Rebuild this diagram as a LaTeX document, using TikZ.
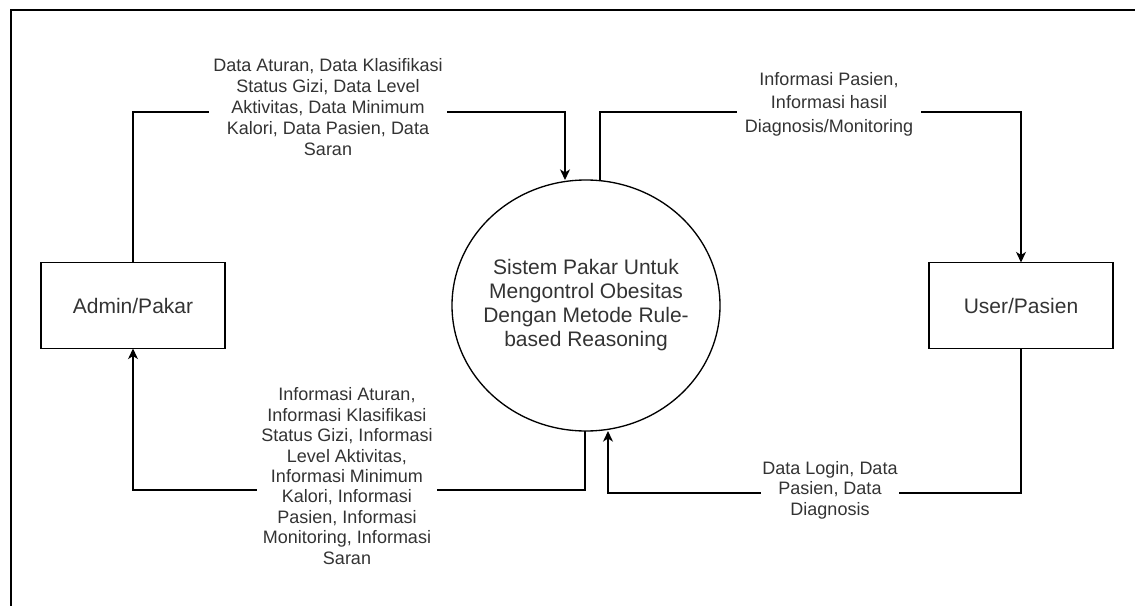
\documentclass[tikz,border=0pt]{standalone}
\usepackage{fontspec}
\setmainfont{Liberation Sans}
\usetikzlibrary{arrows.meta,positioning,shapes.geometric}

\definecolor{txt}{HTML}{333333}
\tikzset{
  flow/.style={line width=1pt,-{Stealth[length=8pt,width=7.5pt,inset=2.4pt]}},
  entity/.style={draw,line width=1pt,minimum width=138pt,minimum height=64.5pt,
    outer sep=0pt,text=txt,font=\fontsize{15.75}{18}\selectfont},
  process/.style={draw,ellipse,line width=1pt,minimum width=201pt,minimum height=188.25pt,
    inner xsep=-9pt,inner ysep=0pt,outer sep=0pt,align=center,text=txt},
  flowlabel/.style={fill=white,align=center,text=txt,inner xsep=3pt,inner ysep=1pt}
}

\begin{document}
\begin{tikzpicture}[x=0.75pt,y=-0.75pt]
    \useasboundingbox (0,0) rectangle (1135,606);
    \draw[line width=1pt] (11,606) -- (11,10) -- (1135,10);

    \node(sys)[process,font=\fontsize{15.75}{18}\selectfont] at (586,305.5)
        {Sistem Pakar Untuk\\Mengontrol Obesitas\\Dengan Metode Rule-\\based Reasoning};
    \node(admin)[entity,left=170.25pt of sys] {Admin/Pakar};
    \node(user)[entity,right=156.75pt of sys] {User/Pasien};

    \coordinate(t1) at (565,112);
    \coordinate(t2) at (600,112);
    \coordinate(b1) at (585,490);
    \coordinate(b2) at (608,493);

    \draw[flow] (admin.north) |- (t1) -- (t1 |- sys.north);
    \draw[flow] (t2 |- sys.north) -- (t2) -| (user.north);
    \draw[flow] (b1 |- sys.south) -- (b1) -| (admin.south);
    \draw[flow] (user.south) |- (b2) -- (b2 |- sys.south);

    \node(l1)[flowlabel,font=\fontsize{13.5}{15.75}\selectfont] at (328,107)
        {Data Aturan, Data Klasifikasi\\Status Gizi, Data Level\\Aktivitas, Data Minimum\\Kalori, Data Pasien, Data\\Saran};
    \node(l2)[flowlabel,inner xsep=6pt,font=\fontsize{13.5}{17.6}\selectfont] at (829,104)
        {Informasi Pasien,\\Informasi hasil\\Diagnosis/Monitoring};
    \node(l3)[flowlabel,font=\fontsize{13.5}{15.3}\selectfont] at (347,476)
        {Informasi Aturan,\\Informasi Klasifikasi\\Status Gizi, Informasi\\Level Aktivitas,\\Informasi Minimum\\Kalori, Informasi\\Pasien, Informasi\\Monitoring, Informasi\\Saran};
    \node(l4)[flowlabel,inner xsep=1pt,font=\fontsize{13.5}{15.4}\selectfont] at (830,490)
        {Data Login, Data\\Pasien, Data\\Diagnosis};
\end{tikzpicture}
\end{document}
